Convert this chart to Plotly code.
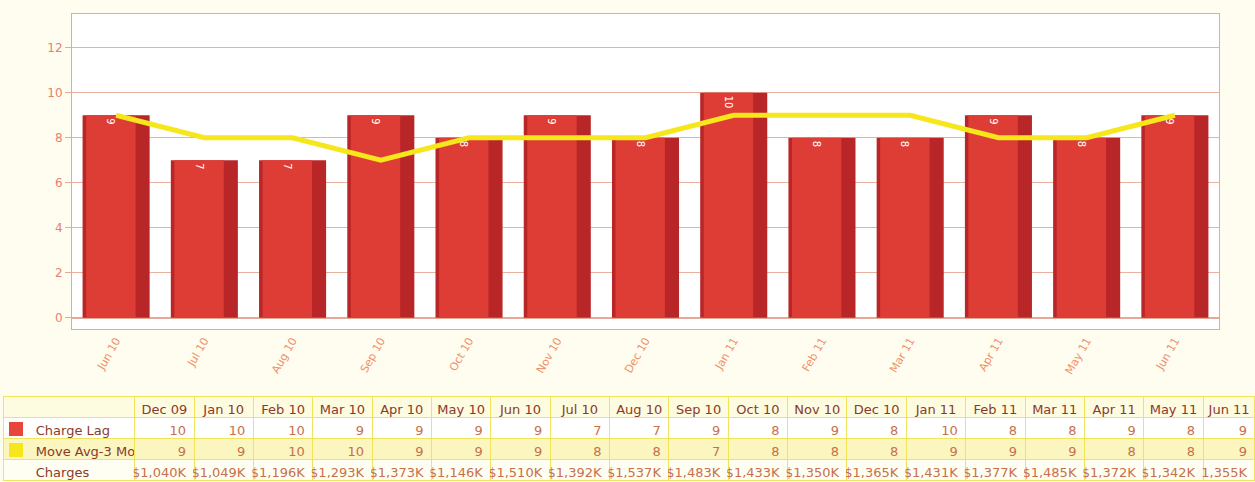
import plotly.graph_objects as go

# ---- data ----
months = ["Jun 10", "Jul 10", "Aug 10", "Sep 10", "Oct 10", "Nov 10", "Dec 10",
          "Jan 11", "Feb 11", "Mar 11", "Apr 11", "May 11", "Jun 11"]
charge_lag = [9, 7, 7, 9, 8, 9, 8, 10, 8, 8, 9, 8, 9]
move_avg = [9, 8, 8, 7, 8, 8, 8, 9, 9, 9, 8, 8, 9]

table_months = ["Dec 09", "Jan 10", "Feb 10", "Mar 10", "Apr 10", "May 10", "Jun 10",
                "Jul 10", "Aug 10", "Sep 10", "Oct 10", "Nov 10", "Dec 10", "Jan 11",
                "Feb 11", "Mar 11", "Apr 11", "May 11", "Jun 11"]
table_lag = [10, 10, 10, 9, 9, 9, 9, 7, 7, 9, 8, 9, 8, 10, 8, 8, 9, 8, 9]
table_avg = [9, 9, 10, 10, 9, 9, 9, 8, 8, 7, 8, 8, 8, 9, 9, 9, 8, 8, 9]
table_charges = ["$1,040K", "$1,049K", "$1,196K", "$1,293K", "$1,373K", "$1,146K",
                 "$1,510K", "$1,392K", "$1,537K", "$1,483K", "$1,433K", "$1,350K",
                 "$1,365K", "$1,431K", "$1,377K", "$1,485K", "$1,372K", "$1,342K",
                 "$1,355K"]
row_labels = ["Charge Lag", "Move Avg-3 Mo", "Charges"]

W, H = 1255, 482
FONT = "DejaVu Sans"
NB = "\u00a0"
RED = "#e8463c"
YEL = "#f6e61c"

fig = go.Figure()

# base (darker) bar
fig.add_trace(go.Bar(
    x=months, y=charge_lag, width=0.76, offset=-0.38,
    marker=dict(color="#b82628", line=dict(width=0)),
    hoverinfo="skip", showlegend=False,
))
# highlight bar for cylinder look, carries the value label
fig.add_trace(go.Bar(
    x=months, y=charge_lag, width=0.56, offset=-0.34,
    marker=dict(color="#de3d36", line=dict(width=0)),
    text=charge_lag, texttemplate="%{y}", textposition="inside",
    insidetextanchor="end", textangle=90,
    textfont=dict(color="white", size=10, family=FONT),
    showlegend=False, name="Charge Lag",
))
fig.add_trace(go.Scatter(
    x=months, y=move_avg, mode="lines",
    line=dict(color=YEL, width=5),
    showlegend=False, name="Move Avg-3 Mo",
))

# ---- table ----
label_col = [NB * 6 + lbl.replace(" ", NB) for lbl in row_labels]
cols = [label_col] + [[str(a), str(b), c] for a, b, c in
                      zip(table_lag, table_avg, table_charges)]
ncol = len(table_months)
fills = ["#ffffff", "#fbf5c0", "#fffef2"]
fig.add_trace(go.Table(
    domain=dict(x=[3 / W, 1.0], y=[0.0, 86 / H]),
    columnwidth=[132] + [59.5] * (ncol - 1) + [52],
    header=dict(
        values=[""] + [m.replace(" ", NB) for m in table_months],
        fill_color="#fdfbe0",
        line=dict(color="#f2e45a", width=1),
        font=dict(family=FONT, size=13, color="#8a3a2a"),
        align="center", height=21,
    ),
    cells=dict(
        values=cols,
        fill_color=[fills] * (ncol + 1),
        line=dict(color="#f2e45a", width=1),
        font=dict(family=FONT, size=13,
                  color=[["#8a3a2a"] * 3] + [["#c8704a"] * 3] * ncol),
        align=["left"] + ["right"] * ncol, height=21,
    ),
))

# legend swatches in the table's label column
for (y0, y1), col in [((422, 436), RED), ((443, 457), YEL)]:
    fig.add_shape(type="rect", xref="paper", yref="paper",
                  x0=9 / W, x1=23 / W, y0=1 - y1 / H, y1=1 - y0 / H,
                  fillcolor=col, line=dict(width=0), layer="above")

fig.update_layout(
    width=W, height=H,
    margin=dict(l=0, r=0, t=0, b=0),
    paper_bgcolor="#fefdef",
    plot_bgcolor="#ffffff",
    barmode="overlay",
    font=dict(family=FONT, size=12, color="#e07a66"),
    xaxis=dict(
        domain=[72 / W, 1219 / W],
        type="category", range=[-0.5, 12.5],
        tickangle=-60, tickfont=dict(size=11, color="#f0906a"),
        showgrid=False, showline=True, linecolor="#e8a898", mirror=True,
        ticks="", fixedrange=True,
    ),
    yaxis=dict(
        domain=[(H - 329) / H, (H - 14) / H],
        range=[-0.5, 13.5], tickvals=[0, 2, 4, 6, 8, 10, 12],
        tickfont=dict(size=12, color="#e88070"),
        showgrid=True, gridcolor="#eab0a0", gridwidth=1,
        zeroline=True, zerolinecolor="#e8a898",
        showline=True, linecolor="#e8a898", mirror=True,
        ticks="outside", ticklen=6, tickcolor="#e8a898",
        fixedrange=True,
    ),
)

fig.write_html("out.html", config={"displayModeBar": False},
               post_script="document.body.style.margin='0';")
